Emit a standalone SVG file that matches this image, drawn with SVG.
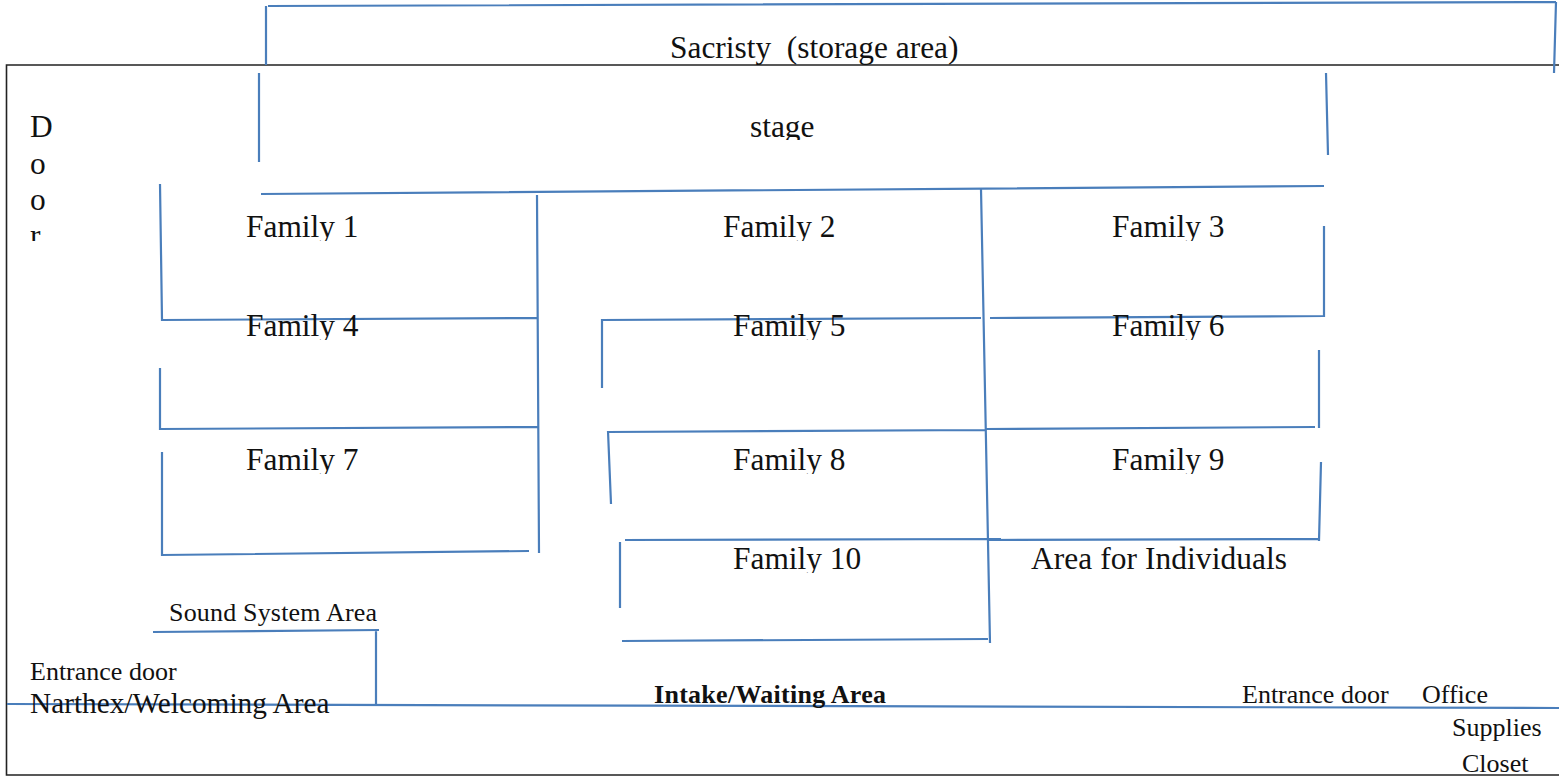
<svg xmlns="http://www.w3.org/2000/svg" width="1559" height="776" viewBox="0 0 1559 776">
<style>
.w{stroke:#4a7ebb;stroke-width:2.2;fill:none}
.f{stroke:#222;stroke-width:1.6;fill:none}
text{font-family:"Liberation Serif","Times New Roman",serif;fill:#111;white-space:pre}
.l{font-size:31.400px}.n{font-size:29.300px}.s{font-size:26px}
</style>
<defs>
<clipPath id="rc"><rect x="20" y="225" width="40" height="16"/></clipPath>
<clipPath id="sc"><rect x="740" y="105" width="90" height="35"/></clipPath>
<clipPath id="r1"><rect x="200" y="205" width="1200" height="36"/></clipPath>
<clipPath id="r2"><rect x="200" y="305" width="1200" height="35"/></clipPath>
<clipPath id="r3"><rect x="200" y="440" width="1200" height="34"/></clipPath>
<clipPath id="r4"><rect x="700" y="540" width="700" height="33"/></clipPath>
</defs>
<rect width="1559" height="776" fill="#fff"/>
<g id="frame"><path class="f" d="M1559 65H6.500V775H1559"/></g>
<g id="connectors">
<path class="w" d="M268 6L1556 2M266 6V65M1556 2L1554 73M259 73V162M1326 73L1328 155M261 194L1324 186"/>
<path class="w" d="M160 184L162 320L537 318M537 195L539 553M160 368V429L538 427M162 452V555L529 551"/>
<path class="w" d="M981 189L990 643M602 320L981 318M602 319V388M990 318L1324 316M1324 226V317M608 432L985 430M608 431L611 504M986 429L1315 427M1319 350V428M625 540L1001 539M988 540L1319 539M1321 462L1319 541M620 542V608M622 641L988 639"/>
<path class="w" d="M153 632L379 630M376 630V705M7 704L1559 708"/>
</g>
<g id="door"><text x="30" y="137" class="l">D</text><text x="30" y="174" class="l">o</text><text x="30" y="210" class="l">o</text><text x="30" y="246" class="l" clip-path="url(#rc)">r</text></g>
<g id="sacristy"><text x="670" y="58" class="l">Sacristy  (storage area)</text></g>
<g id="stage"><text x="750" y="137" class="l" clip-path="url(#sc)">stage</text></g>
<g clip-path="url(#r1)"><g id="family-1"><text x="246" y="237" class="l">Family 1</text></g>
<g id="family-2"><text x="723" y="237" class="l">Family 2</text></g>
<g id="family-3"><text x="1112" y="237" class="l">Family 3</text></g></g>
<g clip-path="url(#r2)"><g id="family-4"><text x="246" y="336" class="l">Family 4</text></g>
<g id="family-5"><text x="733" y="336" class="l">Family 5</text></g>
<g id="family-6"><text x="1112" y="336" class="l">Family 6</text></g></g>
<g clip-path="url(#r3)"><g id="family-7"><text x="246" y="470" class="l">Family 7</text></g>
<g id="family-8"><text x="733" y="470" class="l">Family 8</text></g>
<g id="family-9"><text x="1112" y="470" class="l">Family 9</text></g></g>
<g clip-path="url(#r4)"><g id="family-10"><text x="733" y="569" class="l">Family 10</text></g>
<g id="individuals"><text x="1031" y="569" class="l" textLength="256">Area for Individuals</text></g></g>
<g id="sound"><text x="169" y="621" class="s" textLength="208">Sound System Area</text></g>
<g id="entrance-left"><text x="30" y="680" class="s">Entrance door</text></g>
<g id="narthex"><text x="30" y="713" class="n">Narthex/Welcoming Area</text></g>
<g id="intake"><text x="654" y="703" class="s" font-weight="bold" textLength="232">Intake/Waiting Area</text></g>
<g id="entrance-right"><text x="1242" y="703" class="s">Entrance door</text></g>
<g id="office"><text x="1422" y="703" class="s">Office</text></g>
<g id="supplies"><text x="1452" y="736" class="s">Supplies</text></g>
<g id="closet"><text x="1462" y="772" class="s">Closet</text></g>
</svg>
